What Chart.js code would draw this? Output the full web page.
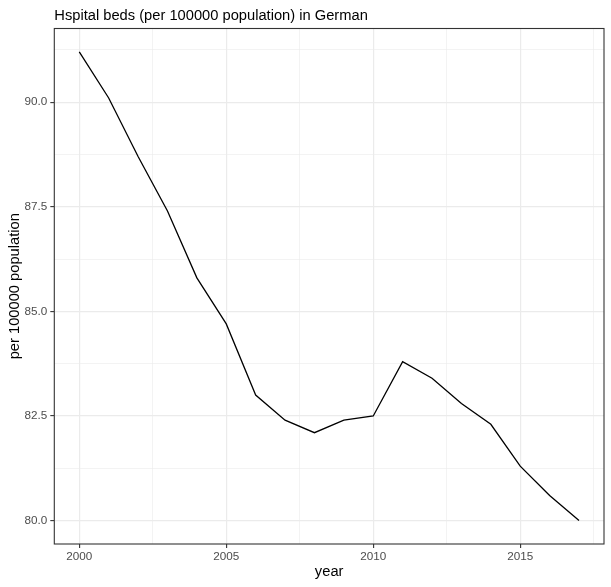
<!DOCTYPE html>
<html>
<head>
<meta charset="utf-8">
<script src="https://cdn.jsdelivr.net/npm/chart.js@4"></script>
<style>
  html, body { margin: 0; padding: 0; background: #fff; }
  #wrap { width: 611px; height: 587px; }
</style>
</head>
<body>
<div id="wrap"><canvas id="bedsChart" width="611" height="587"></canvas></div>
<script>
// --- data ---
const years = [2000, 2001, 2002, 2003, 2004, 2005, 2006, 2007, 2008,
               2009, 2010, 2011, 2012, 2013, 2014, 2015, 2016, 2017];
const beds = [91.2, 90.1, 88.7, 87.4, 85.8, 84.7, 83.0, 82.4, 82.1,
              82.4, 82.5, 83.8, 83.4, 82.8, 82.3, 81.3, 80.6, 80.0];

const xMajor = [2000, 2005, 2010, 2015];
const xMinor = [2002.5, 2007.5, 2012.5, 2017.5];
const yMajor = [80.0, 82.5, 85.0, 87.5, 90.0];
const yMinor = [81.25, 83.75, 86.25, 88.75, 91.25];

const titleText = 'Hspital beds (per 100000 population) in German';
const xTitle = 'year';
const yTitle = 'per 100000 population';

// ggplot-style 5% expansion of the data range
function expand(arr) {
    const lo = Math.min(...arr), hi = Math.max(...arr);
    const pad = (hi - lo) * 0.05;
    return [lo - pad, hi + pad];
}
const [xMin, xMax] = expand(years);
const [yMin, yMax] = expand(beds);

const FONT = "'Liberation Sans', Arial, Helvetica, sans-serif";
const GRID = '#EBEBEB';
const DARK = '#333333';

const isMajor = (list, v) => list.some(m => Math.abs(m - v) < 1e-6);

function setTicks(majors, minors) {
    return function (scale) {
        scale.ticks = majors.concat(minors).sort((a, b) => a - b).map(v => ({ value: v }));
    };
}

// title drawn flush with the panel, plus the panel border on top
const panelPlugin = {
    id: 'panel',
    afterDatasetsDraw(chart) {
        const { ctx, chartArea: a } = chart;
        ctx.save();
        ctx.strokeStyle = DARK;
        ctx.lineWidth = 1.1;
        ctx.strokeRect(a.left, a.top, a.right - a.left, a.bottom - a.top);
        ctx.restore();
    },
    afterDraw(chart) {
        const { ctx, chartArea: a } = chart;
        ctx.save();
        ctx.fillStyle = '#000';
        ctx.font = '14.7px ' + FONT;
        ctx.textAlign = 'left';
        ctx.textBaseline = 'alphabetic';
        ctx.fillText(titleText, a.left, 19.5);
        ctx.restore();
    }
};

const ctx = document.getElementById('bedsChart').getContext('2d');
const bedsChart = new Chart(ctx, {
    type: 'line',
    data: {
        datasets: [{
            label: 'beds',
            data: years.map((y, i) => ({ x: y, y: beds[i] })),
            borderColor: '#000000',
            borderWidth: 1.3,
            pointRadius: 0,
            tension: 0,
            fill: false
        }]
    },
    options: {
        responsive: false,
        animation: false,
        layout: { padding: { top: 28.5, right: 7, left: 0, bottom: 0 } },
        plugins: {
            legend: { display: false },
            tooltip: { enabled: false },
            title: { display: false }
        },
        scales: {
            x: {
                type: 'linear',
                min: xMin,
                max: xMax,
                afterBuildTicks: setTicks(xMajor, xMinor),
                afterFit(scale) { scale.height = 43; },
                border: { display: false },
                grid: {
                    color: GRID,
                    lineWidth: c => isMajor(xMajor, c.tick.value) ? 1.2 : 0.6,
                    tickColor: c => isMajor(xMajor, c.tick.value) ? DARK : 'rgba(0,0,0,0)',
                    tickWidth: 1.1,
                    tickLength: 4
                },
                ticks: {
                    autoSkip: false,
                    maxRotation: 0,
                    padding: 2,
                    color: '#4D4D4D',
                    font: { family: FONT, size: 11.7 },
                    callback: v => isMajor(xMajor, v) ? String(v) : ''
                },
                title: {
                    display: true,
                    text: xTitle,
                    color: '#000',
                    font: { family: FONT, size: 14.7 },
                    padding: { top: 0, bottom: 6 }
                }
            },
            y: {
                type: 'linear',
                min: yMin,
                max: yMax,
                afterBuildTicks: setTicks(yMajor, yMinor),
                afterFit(scale) { scale.width = 54.3; },
                border: { display: false },
                grid: {
                    color: GRID,
                    lineWidth: c => isMajor(yMajor, c.tick.value) ? 1.2 : 0.6,
                    tickColor: c => isMajor(yMajor, c.tick.value) ? DARK : 'rgba(0,0,0,0)',
                    tickWidth: 1.1,
                    tickLength: 4
                },
                ticks: {
                    autoSkip: false,
                    padding: 3,
                    color: '#4D4D4D',
                    font: { family: FONT, size: 11.7 },
                    callback: v => isMajor(yMajor, v) ? v.toFixed(1) : ''
                },
                title: {
                    display: true,
                    text: yTitle,
                    color: '#000',
                    font: { family: FONT, size: 14.7 },
                    padding: { top: 6, bottom: 0 }
                }
            }
        }
    },
    plugins: [panelPlugin]
});
</script>
</body>
</html>
